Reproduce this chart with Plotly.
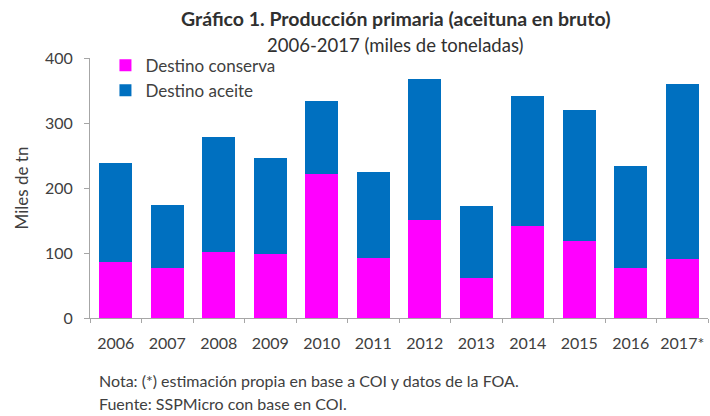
import plotly.graph_objects as go

years = ["2006", "2007", "2008", "2009", "2010", "2011", "2012", "2013", "2014", "2015", "2016", "2017*"]
conserva = [86, 77, 102, 99, 221, 92, 151, 62, 141, 119, 77, 91]
total = [238, 174, 278, 246, 334, 225, 367, 173, 341, 320, 234, 360]
aceite = [t - c for t, c in zip(total, conserva)]
y_ticks = [0, 100, 200, 300, 400]

FONT = "Lato"
TXT = "#404040"

fig = go.Figure()
fig.add_trace(go.Bar(x=years, y=conserva, name="Destino conserva", marker_color="#FF00FF",
                     marker_line_width=0))
fig.add_trace(go.Bar(x=years, y=aceite, name="Destino aceite", marker_color="#0070C0",
                     marker_line_width=0))

fig.update_layout(
    width=710, height=416,
    barmode="stack", bargap=0.36,
    plot_bgcolor="white", paper_bgcolor="white",
    margin=dict(l=90, r=2, t=58, b=98),
    font=dict(family=FONT, color=TXT, size=15),
    showlegend=True,
    legend=dict(x=0.025, y=1.04, xanchor="left", yanchor="top", traceorder="normal",
                bgcolor="rgba(0,0,0,0)", font=dict(size=17, color=TXT),
                tracegroupgap=3, itemwidth=30),
)
fig.add_annotation(text="<b>Gráfico 1. Producción primaria (aceituna en bruto)</b>",
                   xref="paper", yref="paper", x=0.495, y=1, yanchor="bottom",
                   yshift=26, showarrow=False, font=dict(size=19.5, color="#303030"))
fig.add_annotation(text="2006-2017 (miles de toneladas)",
                   xref="paper", yref="paper", x=0.495, y=1, yanchor="bottom",
                   yshift=0, showarrow=False, font=dict(size=18.5, color="#303030"))
fig.add_annotation(text="Nota: (*) estimación propia en base a COI y datos de la FOA.",
                   xref="paper", yref="paper", x=0, y=0, xanchor="left", yanchor="top",
                   xshift=7, yshift=-51, showarrow=False, align="left",
                   font=dict(size=16, color=TXT))
fig.add_annotation(text="Fuente: SSPMicro con base en COI.",
                   xref="paper", yref="paper", x=0, y=0, xanchor="left", yanchor="top",
                   xshift=7, yshift=-74, showarrow=False, align="left",
                   font=dict(size=16, color=TXT))

fig.update_yaxes(range=[0, 400], tickvals=y_ticks, showgrid=False, zeroline=False,
                 showline=True, linecolor="#A6A6A6", linewidth=1, ticks="outside",
                 ticklen=5, tickcolor="#A6A6A6", tickfont=dict(size=16, color=TXT),
                 ticklabelstandoff=8,
                 title=dict(text="Miles de tn", font=dict(size=17, color=TXT), standoff=12))
fig.update_xaxes(showgrid=False, showline=True, linecolor="#A6A6A6", linewidth=1,
                 ticks="outside", ticklen=4, tickcolor="#A6A6A6", tickson="boundaries",
                 tickfont=dict(size=16, color=TXT), tickangle=0, ticklabelstandoff=11)

fig.write_html("out.html")
